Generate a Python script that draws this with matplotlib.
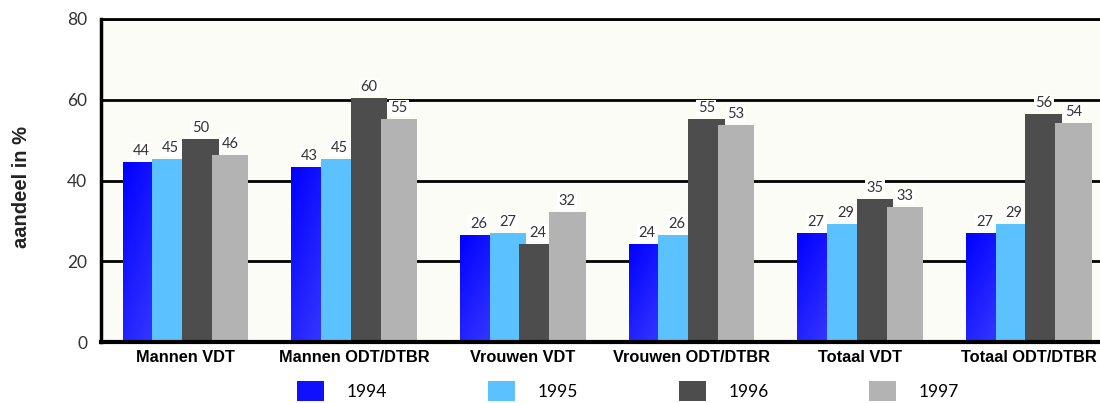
import numpy as np
import matplotlib
matplotlib.use("Agg")
import matplotlib.pyplot as plt
from matplotlib.patches import Patch

categories = ["Mannen VDT", "Mannen ODT/DTBR", "Vrouwen VDT", "Vrouwen ODT/DTBR", "Totaal VDT", "Totaal ODT/DTBR"]
years = ["1994", "1995", "1996", "1997"]
v1994 = [44.6, 43.3, 26.5, 24.3, 27.0, 27.0]
v1995 = [45.3, 45.3, 27.0, 26.5, 29.2, 29.2]
v1996 = [50.2, 60.4, 24.3, 55.2, 35.4, 56.4]
v1997 = [46.3, 55.2, 32.2, 53.7, 33.4, 54.2]
series = [v1994, v1995, v1996, v1997]
colors = ["#1010ff", "#5bc2ff", "#4d4d4d", "#b3b3b3"]

num_font = "Lato"

fig = plt.figure(figsize=(11, 4.03), dpi=100)
ax = fig.add_axes([0.092, 0.151, 0.92, 0.802])
ax.set_facecolor("#fcfcf6")

x = np.arange(len(categories))
offsets = [-0.264, -0.088, 0.088, 0.264]
width = 0.216

for i, (vals, col) in enumerate(zip(series, colors)):
    bars = ax.bar(x + offsets[i], vals, width, color=col, zorder=3 + i, linewidth=0)
    if i == 0:
        # blue gradient on the 1994 bars
        grad = np.linspace(0, 1, 64)
        g = (grad[None, :] * 0.4 + grad[:, None] * 0.6)
        cmap = matplotlib.colors.LinearSegmentedColormap.from_list("b", ["#0000ff", "#3a3aff"])
        for b in bars:
            im = ax.imshow(g, cmap=cmap, aspect="auto", zorder=3 + i,
                           extent=[b.get_x(), b.get_x() + b.get_width(), 0, b.get_height()])
            im.set_clip_path(b)
    for xi, v in zip(x + offsets[i], vals):
        ax.annotate(str(int(v)), (xi, v), xytext=(0, 3), textcoords="offset points",
                    ha="center", va="bottom", fontsize=10.5, family=num_font, color="#333333",
                    zorder=10, bbox=dict(boxstyle="square,pad=0.1", fc="white", ec="none"))

ax.set_xlim(-0.5, 5.5)
ax.set_ylim(0, 80)
ax.set_yticks([0, 20, 40, 60, 80])
ax.yaxis.grid(True, color="black", linewidth=2, zorder=1)
ax.set_axisbelow(True)
ax.tick_params(axis="y", length=0, pad=10, labelsize=12.5, labelcolor="#333333")
for lab in ax.get_yticklabels():
    lab.set_family(num_font)
ax.set_xticks(x)
ax.set_xticklabels(categories, fontsize=11.8, fontweight="bold", family="Liberation Sans")
ax.tick_params(axis="x", length=0, pad=6)

ax.spines["right"].set_visible(False)
ax.spines["left"].set_linewidth(2.5)
ax.spines["top"].set_linewidth(2)
ax.spines["bottom"].set_linewidth(3)
for s in ax.spines.values():
    s.set_zorder(20)

fig.text(0.02, 0.535, "aandeel in %", rotation=90, ha="center", va="center",
         fontsize=14.5, fontweight="bold", family="Liberation Sans", color="#222222")

handles = [Patch(facecolor=c, edgecolor="none") for c in colors]
fig.legend(handles, years, loc="center", bbox_to_anchor=(0.571, 0.03), ncol=4, frameon=False,
           handlelength=1.56, handleheight=1.44, handletextpad=1.3, columnspacing=5.8,
           prop={"family": num_font, "size": 12.5})

fig.savefig("out.png", dpi=100)
